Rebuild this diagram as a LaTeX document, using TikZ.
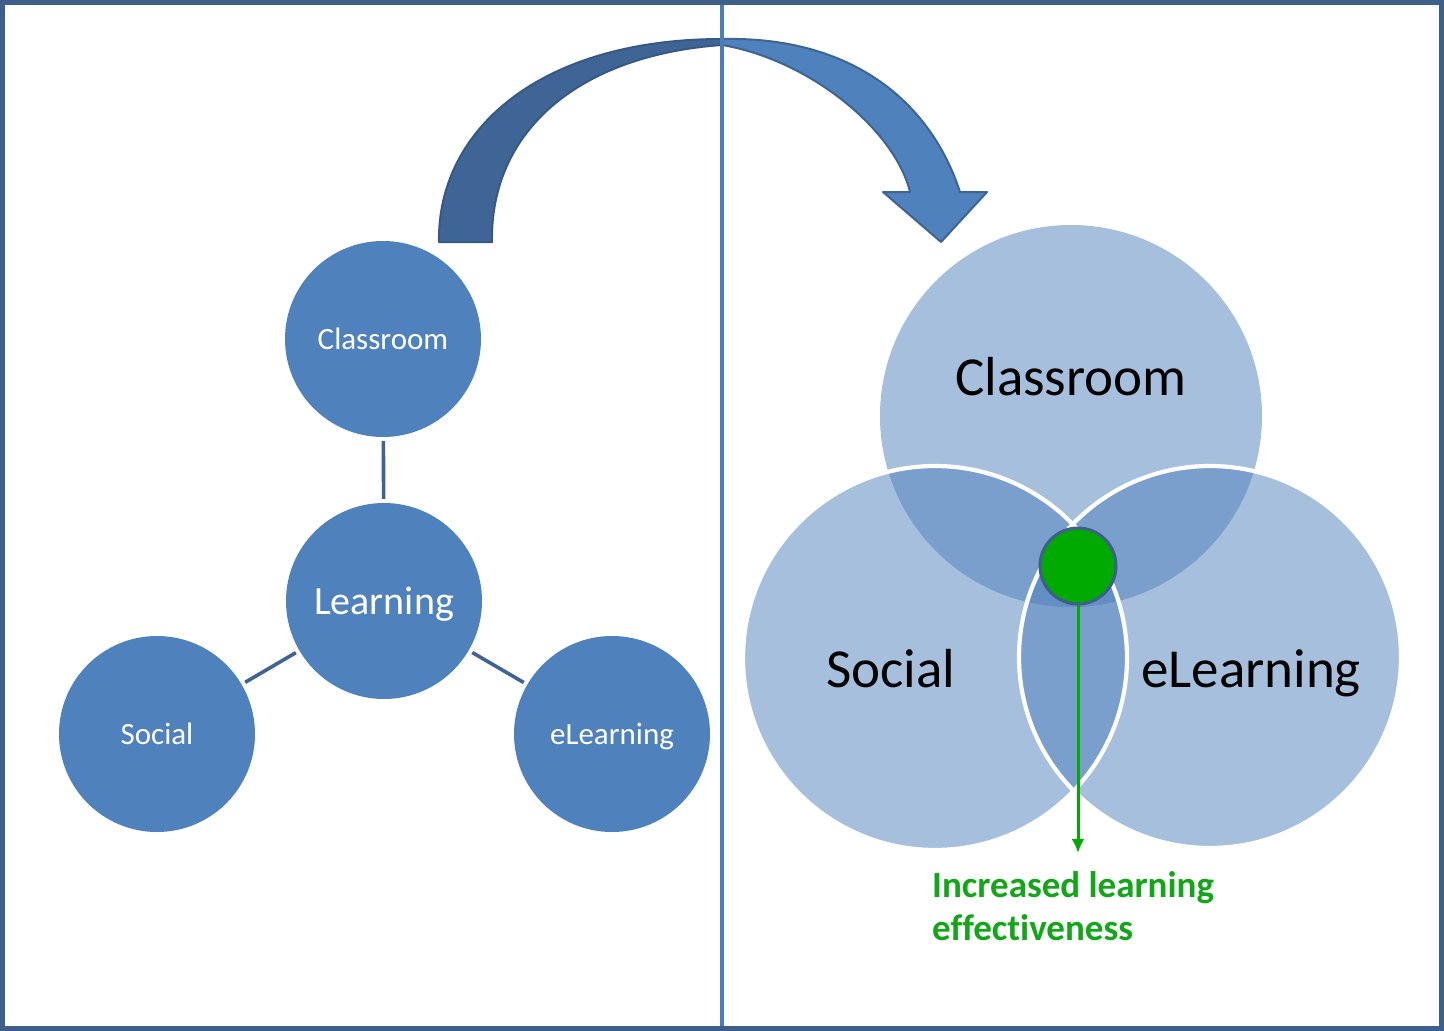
\documentclass[tikz,border=0pt]{standalone}
\usepackage{fontspec}
\setmainfont{Carlito}[Ligatures=NoCommon]
\usetikzlibrary{arrows.meta}
\definecolor{frameblue}{RGB}{62,95,138}
\definecolor{divblue}{RGB}{74,126,187}
\definecolor{accblue}{RGB}{79,129,189}
\definecolor{lineblue}{RGB}{64,98,148}
\definecolor{arrdark}{RGB}{63,101,151}
\definecolor{arrdarkline}{RGB}{56,88,132}
\definecolor{arrlightline}{RGB}{62,100,148}
\definecolor{dotgreen}{RGB}{0,170,0}
\definecolor{txtgreen}{RGB}{18,166,24}
\tikzset{
  lcircle/.style={circle, fill=accblue, draw=none, minimum size=196pt, inner sep=0pt,
    text depth=0pt, text=white, font=\fontsize{31}{37}\selectfont},
  lcenter/.style={lcircle, font=\fontsize{40}{48}\selectfont},
  link/.style={draw=lineblue, line width=3.6pt, shorten <=4pt, shorten >=4pt},
  venn/.style={fill=accblue, fill opacity=0.5},
  vennedge/.style={draw=white, line width=4.2pt},
  vtext/.style={anchor=base, inner sep=0pt, text=black, font=\fontsize{55}{66}\selectfont},
  gtext/.style={anchor=base west, inner sep=0pt, text=txtgreen, font=\bfseries\fontsize{37}{43}\selectfont},
}
\begin{document}
\begin{tikzpicture}[x=1pt,y=-1pt]
\useasboundingbox (0,0) rectangle (1444,1031);
\fill[white] (0,0) rectangle (1444,1031);

% curved arrow
\filldraw[fill=arrdark, draw=arrdarkline, line width=2pt, line join=round]
  (439,242) .. controls (437,130) and (540,39) .. (722,39)
  -- (722,45) .. controls (580,55) and (490,130) .. (492,242) -- cycle;
\filldraw[fill=accblue, draw=arrlightline, line width=2pt, line join=round]
  (722,39) .. controls (850,36) and (930,100) .. (960,192)
  -- (987,192) -- (941,242) -- (883,192) -- (910,192)
  .. controls (895,130) and (810,60) .. (722,45) -- cycle;

% left diagram
\node[lcircle] (cls) at (383,339) {Classroom};
\node[lcenter] (lrn) at (384,601) {Learning};
\node[lcircle] (soc) at (157,734) {Social};
\node[lcircle] (elr) at (612,734) {eLearning};
\draw[link] (cls) -- (lrn);
\draw[link] (lrn) -- (soc);
\draw[link] (lrn) -- (elr);

% Venn diagram
\fill[venn] (1071,416) circle (191);
\fill[venn] (935,658) circle (192);
\fill[venn] (1210,657) circle (191);
\draw[vennedge] (935,658) circle (192);
\draw[vennedge] (1210,657) circle (191);

\node[vtext] (vcls) at (1071,395) {Classroom};
\node[vtext] (vsoc) at (891,687) {Social};
\node[vtext] (velr) at (1251,687) {eLearning};

% green marker
\coordinate (tip) at (1078,853);
\draw[draw=dotgreen, line width=3pt, -{Latex[length=14pt,width=13pt]}] (1078,590) -- (tip);
\node[circle, fill=dotgreen, draw=frameblue, line width=3pt, minimum size=76pt, inner sep=0pt] (gdot) at (1078,566) {};
\node[gtext] (gt1) at (932,897) {Increased learning};
\node[gtext] (gt2) at (932,940) {effectiveness};

% frame and divider
\draw[draw=divblue, line width=3.6pt] (722,3) -- (722,1028);
\draw[draw=frameblue, line width=4.5pt] (2.5,2.5) rectangle (1441.5,1028.5);
\end{tikzpicture}
\end{document}
